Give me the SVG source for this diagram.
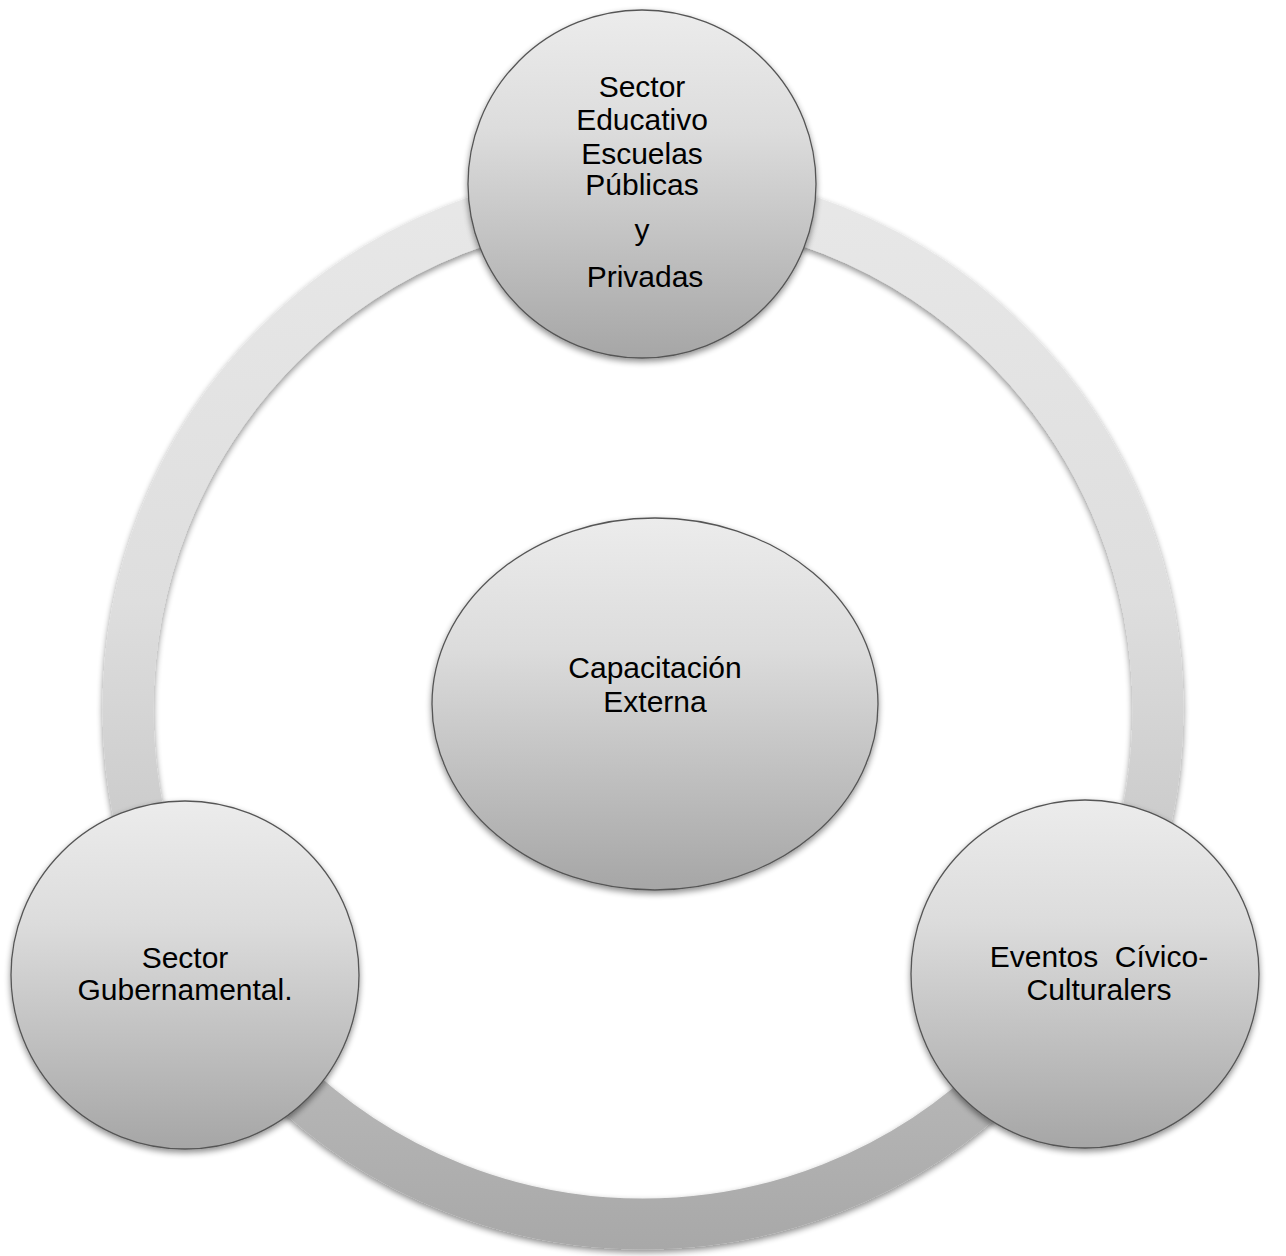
<svg xmlns="http://www.w3.org/2000/svg" width="1286" height="1256" viewBox="0 0 1286 1256">
<style>
.lbl{font-family:"Liberation Sans",Arial,sans-serif;font-size:30px;fill:#000;text-anchor:middle}
.node{fill:url(#gNode);stroke:#555;stroke-width:1.3;filter:url(#sh)}
</style>
<defs>
<linearGradient id="gNode" x1="0" y1="0" x2="0" y2="1">
<stop offset="0" stop-color="#ececec"/>
<stop offset="0.35" stop-color="#dcdcdc"/>
<stop offset="1" stop-color="#a6a6a6"/>
</linearGradient>
<linearGradient id="gRing" gradientUnits="userSpaceOnUse" x1="0" y1="170" x2="0" y2="1250">
<stop offset="0" stop-color="#e8e8e8"/>
<stop offset="0.4" stop-color="#dedede"/>
<stop offset="1" stop-color="#a8a8a8"/>
</linearGradient>
<filter id="sh" x="-10%" y="-10%" width="120%" height="125%">
<feGaussianBlur in="SourceAlpha" stdDeviation="3"/>
<feOffset dx="0" dy="3" result="b"/>
<feComponentTransfer><feFuncA type="linear" slope="0.45"/></feComponentTransfer>
<feMerge><feMergeNode/><feMergeNode in="SourceGraphic"/></feMerge>
</filter>
</defs>
<rect width="1286" height="1256" fill="#fff"/>
<g id="connectors">
<circle cx="643" cy="709" r="515" fill="none" stroke="url(#gRing)" stroke-width="51" filter="url(#sh)"/>
</g>
<g id="node-top">
<circle class="node" cx="642" cy="184" r="174"/>
<text class="lbl" x="642" y="97">Sector</text>
<text class="lbl" x="642" y="130">Educativo</text>
<text class="lbl" x="642" y="164">Escuelas</text>
<text class="lbl" x="642" y="195">Públicas</text>
<text class="lbl" x="642" y="240">y</text>
<text class="lbl" x="645" y="287">Privadas</text>
</g>
<g id="node-center">
<ellipse class="node" cx="655" cy="704" rx="223" ry="186"/>
<text class="lbl" x="655" y="678">Capacitación</text>
<text class="lbl" x="655" y="712">Externa</text>
</g>
<g id="node-left">
<circle class="node" cx="185" cy="975" r="174"/>
<text class="lbl" x="185" y="968">Sector</text>
<text class="lbl" x="185" y="1000">Gubernamental.</text>
</g>
<g id="node-right">
<circle class="node" cx="1085" cy="974" r="174"/>
<text class="lbl" x="1099" y="967" xml:space="preserve">Eventos  Cívico-</text>
<text class="lbl" x="1099" y="1000">Culturalers</text>
</g>
</svg>
